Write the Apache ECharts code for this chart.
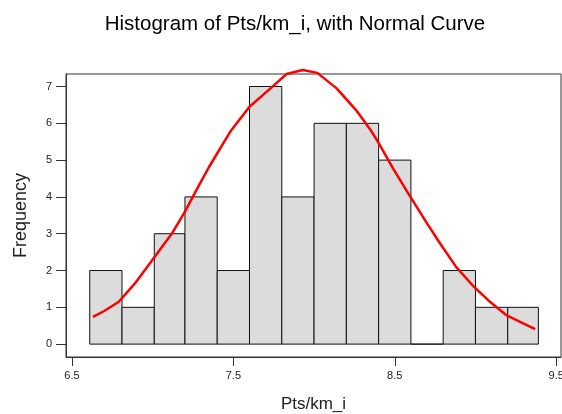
<!DOCTYPE html>
<html>
<head>
<meta charset="utf-8">
<script src="https://cdn.jsdelivr.net/npm/echarts@6/dist/echarts.min.js"></script>
<style>
  html, body { margin: 0; padding: 0; background: #fff; }
  #chart { width: 562px; height: 414px; }
</style>
</head>
<body>
<div id="chart"></div>
<script>
// bin edges (15 edges -> 14 bins)
const binEdges = [6.61, 6.81, 7.01, 7.20, 7.40, 7.60, 7.80, 8.00, 8.20, 8.40, 8.60, 8.80, 9.00, 9.20, 9.39];
const counts = [2, 1, 3, 4, 2, 7, 4, 6, 6, 5, 0, 2, 1, 1];

// normal curve, points
const curvePoints = [
  [6.63, 0.74], [6.70, 0.90], [6.79, 1.15], [6.89, 1.65], [6.99, 2.24],
  [7.12, 3.01], [7.20, 3.60], [7.27, 4.18], [7.35, 4.82], [7.48, 5.77],
  [7.60, 6.45], [7.73, 6.95], [7.83, 7.34], [7.93, 7.45], [8.02, 7.37],
  [8.14, 6.95], [8.26, 6.36], [8.35, 5.82], [8.39, 5.54], [8.49, 4.77],
  [8.59, 4.05], [8.70, 3.28], [8.78, 2.74], [8.88, 2.10], [8.99, 1.56],
  [9.09, 1.15], [9.19, 0.79], [9.37, 0.41]
];

const xTicks = [6.5, 7.5, 8.5, 9.5];
const yTicks = [0, 1, 2, 3, 4, 5, 6, 7];

const bars = counts.map((c, i) => [binEdges[i], binEdges[i + 1], c]);

const font = 'Liberation Sans, Arial, sans-serif';

const myChart = echarts.init(document.getElementById('chart'));

myChart.setOption({
  animation: false,
  backgroundColor: '#fff',
  title: {
    text: 'Histogram of Pts/km_i, with Normal Curve',
    left: 290,
    textAlign: 'center',
    top: 9,
    textStyle: { fontFamily: font, fontSize: 20.5, fontWeight: 'normal', color: '#000' }
  },
  grid: {
    left: 66, top: 74, width: 495, height: 283,
    outerBoundsMode: 'none',
    containLabel: false,
    show: true, borderColor: '#333', borderWidth: 1, backgroundColor: 'transparent'
  },
  xAxis: {
    type: 'value',
    min: 6.463, max: 9.53,
    name: 'Pts/km_i',
    nameLocation: 'middle',
    nameGap: 39,
    nameTextStyle: { fontFamily: font, fontSize: 17, color: '#222' },
    axisLine: { show: true, onZero: false, lineStyle: { color: '#333', width: 1 } },
    splitLine: { show: false },
    axisTick: { show: true, length: 9, customValues: xTicks, lineStyle: { color: '#333', width: 1 } },
    axisLabel: {
      customValues: xTicks, margin: 13,
      fontFamily: font, fontSize: 11, color: '#222',
      formatter: v => v.toFixed(1)
    }
  },
  yAxis: {
    type: 'value',
    min: -0.35, max: 7.34,
    name: 'Frequency',
    nameLocation: 'middle',
    nameGap: 36,
    nameTextStyle: { fontFamily: font, fontSize: 18, color: '#222' },
    axisLine: { show: true, onZero: false, lineStyle: { color: '#333', width: 1 } },
    splitLine: { show: false },
    axisTick: { show: true, length: 10, customValues: yTicks, lineStyle: { color: '#333', width: 1 } },
    axisLabel: {
      customValues: yTicks, margin: 14,
      fontFamily: font, fontSize: 11, color: '#222'
    }
  },
  series: [
    {
      type: 'custom',
      data: bars,
      encode: { x: [0, 1], y: 2 },
      renderItem: function (params, api) {
        const lo = api.coord([api.value(0), 0]);
        const hi = api.coord([api.value(1), api.value(2)]);
        return {
          type: 'rect',
          shape: { x: lo[0], y: hi[1], width: hi[0] - lo[0], height: lo[1] - hi[1] },
          style: { fill: '#dcdcdc', stroke: '#111', lineWidth: 1 }
        };
      },
      z: 2
    },
    {
      type: 'line',
      data: curvePoints,
      showSymbol: false,
      smooth: false,
      clip: false,
      lineStyle: { color: '#ff0000', width: 2.5 },
      z: 3
    }
  ]
});
</script>
</body>
</html>
